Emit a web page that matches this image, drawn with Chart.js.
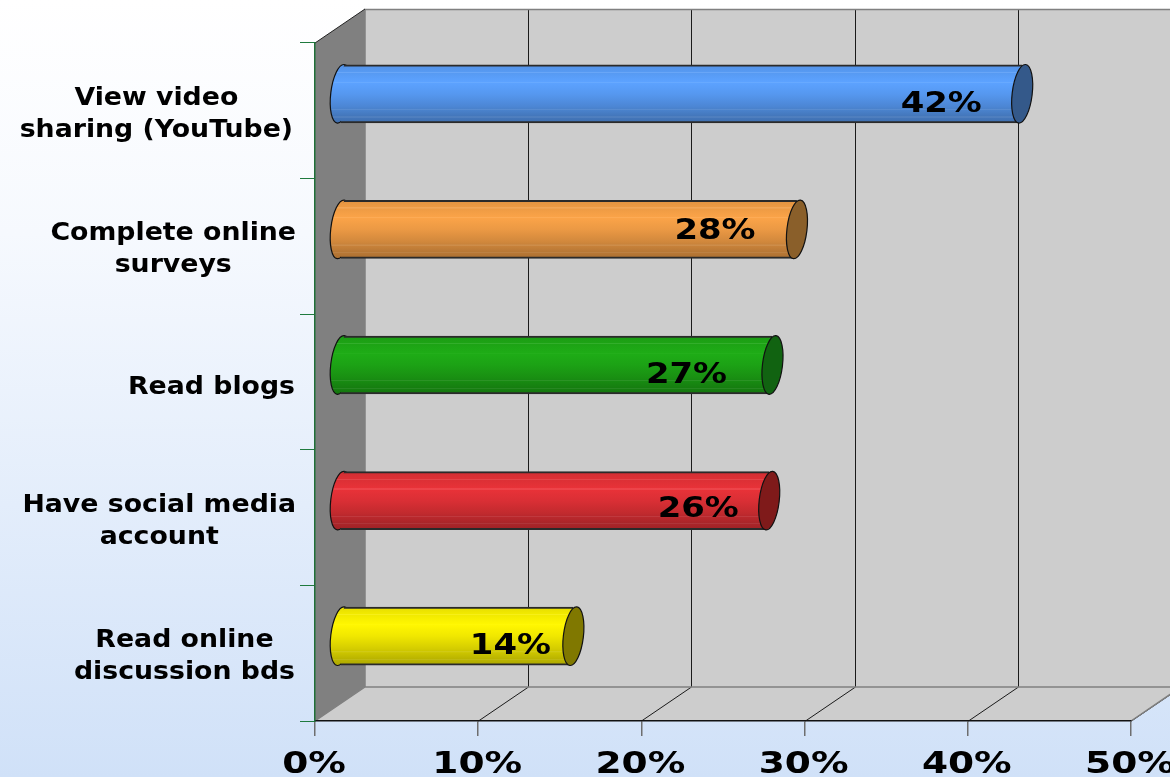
<!DOCTYPE html>
<html>
<head>
<meta charset="utf-8">
<style>
    html, body { margin: 0; padding: 0; width: 1170px; height: 777px; overflow: hidden; }
    body { background: linear-gradient(#ffffff 0%, #f6f9fe 30%, #d0e1f8 100%); }
    canvas { display: block; }
</style>
<script src="https://cdn.jsdelivr.net/npm/chart.js@4"></script>
</head>
<body>
<canvas id="chart" width="1170" height="777"></canvas>
<script>
// Chart values
const categories = [
    ['View video', 'sharing (YouTube)'],
    ['Complete online', 'surveys'],
    ['Read blogs'],
    ['Have social media', 'account'],
    ['Read online', 'discussion bds']
];
const shares = [41.8, 28, 26.5, 26.3, 14.3];
const shareLabels = ['42%', '28%', '27%', '26%', '14%'];
const barRgb = [[92, 162, 255], [250, 163, 72], [30, 172, 22], [232, 50, 56], [255, 246, 0]];
const capColors = ['#34598a', '#8a5f2a', '#116311', '#7f1a1a', '#807800'];

// 3D box settings
const DEPTH_X = 50, DEPTH_Y = -34;
const BAR_H = 58, CAP_RX = 10, CAP_TILT = 3.5;
const FONT = '"DejaVu Sans"';
const labelShiftX = [-81, -82, -86, -71, -63];
const labelShiftY = [18, 10, 18, 16, 18];
const categoryRight = [293, 296, 295, 296, 295];

function shade(rgb, k) {
    const c = rgb.map(v => Math.max(0, Math.min(255, Math.round(v * k))));
    return `rgb(${c[0]},${c[1]},${c[2]})`;
}

// cylinder shading, with the thin light streaks seen on the bars
function barGradient(ctx, top, bottom, rgb) {
    const g = ctx.createLinearGradient(0, top, 0, bottom);
    const stops = [[0, 0.9], [0.12, 0.95], [0.3, 1], [0.5, 0.94], [0.72, 0.83], [1, 0.68]];
    stops.forEach(s => g.addColorStop(s[0], shade(rgb, s[1])));
    [[0.13, 0.95], [0.3, 1], [0.77, 0.8], [0.9, 0.73]].forEach(([p, base]) => {
        const light = shade(rgb.map(v => v * 0.9 + 25), base + 0.02);
        g.addColorStop(p - 0.012, shade(rgb, base));
        g.addColorStop(p - 0.008, light);
        g.addColorStop(p + 0.008, light);
        g.addColorStop(p + 0.012, shade(rgb, base));
    });
    return g;
}

function stretchedText(ctx, text, x, y, sx) {
    ctx.save();
    ctx.translate(x, y);
    ctx.scale(sx, 1);
    ctx.fillText(text, 0, 0);
    ctx.restore();
}

function drawCap(ctx, cx, cy, fill) {
    ctx.beginPath();
    ctx.ellipse(cx, cy, CAP_RX, BAR_H / 2 + 0.5, Math.atan(CAP_TILT / (BAR_H / 2)), 0, Math.PI * 2);
    ctx.fillStyle = fill;
    ctx.fill();
    ctx.strokeStyle = '#111';
    ctx.lineWidth = 1.2;
    ctx.stroke();
}

const boxPlugin = {
    id: 'box3d',
    // walls and floor go down first, below the axes
    beforeDraw(chart) {
        const ctx = chart.ctx, a = chart.chartArea, xs = chart.scales.x;
        const dx = DEPTH_X, dy = DEPTH_Y;
        ctx.save();
        ctx.fillStyle = '#cdcdcd';
        ctx.fillRect(a.left + dx, a.top + dy, a.width, a.height);
        ctx.beginPath();
        ctx.moveTo(a.left, a.bottom);
        ctx.lineTo(a.right, a.bottom);
        ctx.lineTo(a.right + dx, a.bottom + dy);
        ctx.lineTo(a.left + dx, a.bottom + dy);
        ctx.closePath();
        ctx.fill();
        ctx.fillStyle = '#808080';
        ctx.beginPath();
        ctx.moveTo(a.left, a.top);
        ctx.lineTo(a.left + dx, a.top + dy);
        ctx.lineTo(a.left + dx, a.bottom + dy);
        ctx.lineTo(a.left, a.bottom);
        ctx.closePath();
        ctx.fill();

        ctx.lineWidth = 1;
        ctx.strokeStyle = '#1a1a1a';
        xs.ticks.forEach(t => {
            if (t.value === 0) return;
            const x = Math.round(xs.getPixelForValue(t.value)) + 0.5;
            ctx.beginPath();
            ctx.moveTo(x, a.bottom);
            ctx.lineTo(x + dx, a.bottom + dy);
            ctx.lineTo(x + dx, a.top + dy);
            ctx.stroke();
        });

        ctx.strokeStyle = '#808080';
        ctx.lineWidth = 1.5;
        ctx.beginPath();
        ctx.moveTo(a.right + dx, a.top + dy + 0.5);
        ctx.lineTo(a.left + dx, a.top + dy + 0.5);
        ctx.lineTo(a.left + dx, a.bottom + dy);
        ctx.lineTo(a.right + dx, a.bottom + dy);
        ctx.lineTo(a.right, a.bottom);
        ctx.moveTo(a.left, a.bottom);
        ctx.lineTo(a.left + dx, a.bottom + dy);
        ctx.stroke();

        ctx.strokeStyle = '#222';
        ctx.lineWidth = 1;
        ctx.beginPath();
        ctx.moveTo(a.left, a.top);
        ctx.lineTo(a.left + dx, a.top + dy);
        ctx.stroke();
        ctx.restore();
    },
    // bars sit half way into the box
    beforeDatasetsDraw(chart) {
        const ctx = chart.ctx, bars = chart.getDatasetMeta(0).data;
        ctx.save();
        ctx.translate(DEPTH_X / 2, DEPTH_Y / 2);
        bars.forEach((bar, i) => {
            const grad = barGradient(ctx, bar.y - BAR_H / 2, bar.y + BAR_H / 2, barRgb[i]);
            drawCap(ctx, bar.base, bar.y, grad);
        });
        // slant the ends of the bodies so they meet the tilted caps
        ctx.beginPath();
        bars.forEach(bar => {
            const t = bar.y - BAR_H / 2 - 2, b = bar.y + BAR_H / 2 + 2;
            ctx.moveTo(bar.base + CAP_TILT, t);
            ctx.lineTo(bar.x + CAP_TILT, t);
            ctx.lineTo(bar.x - CAP_TILT, b);
            ctx.lineTo(bar.base - CAP_TILT, b);
            ctx.closePath();
        });
        ctx.clip();
    },
    afterDatasetsDraw(chart) {
        const ctx = chart.ctx, bars = chart.getDatasetMeta(0).data;
        ctx.restore();
        ctx.save();
        ctx.translate(DEPTH_X / 2, DEPTH_Y / 2);
        bars.forEach((bar, i) => drawCap(ctx, bar.x, bar.y, capColors[i]));
        ctx.restore();
    },
    afterDraw(chart) {
        const ctx = chart.ctx, xs = chart.scales.x, ys = chart.scales.y;
        const bars = chart.getDatasetMeta(0).data;
        ctx.save();
        ctx.fillStyle = '#000';
        ctx.textAlign = 'center';
        ctx.textBaseline = 'alphabetic';

        // value labels
        ctx.font = 'bold 28px ' + FONT;
        bars.forEach((bar, i) => {
            stretchedText(ctx, shareLabels[i], bar.x + DEPTH_X / 2 + labelShiftX[i], bar.y + DEPTH_Y / 2 + labelShiftY[i], 1.21);
        });

        // x tick labels
        ctx.font = 'bold 30px ' + FONT;
        xs.ticks.forEach(t => {
            stretchedText(ctx, t.label, xs.getPixelForValue(t.value) - 1, 773, 1.25);
        });

        // category labels, each block centred and flush against the axis
        const sx = 1.07;
        ctx.font = 'bold 25px ' + FONT;
        categories.forEach((lines, i) => {
            const c = ys.getPixelForValue(i);
            const w = Math.max(...lines.map(l => ctx.measureText(l).width)) * sx;
            const first = lines.length === 1 ? c + 12 : c - 6;
            lines.forEach((line, j) => {
                stretchedText(ctx, line, categoryRight[i] - w / 2, first + j * 32, sx);
            });
        });
        ctx.restore();
    }
};

new Chart(document.getElementById('chart'), {
    type: 'bar',
    data: {
        labels: categories,
        datasets: [{
            data: shares,
            barThickness: BAR_H,
            borderColor: '#2a2a2a',
            borderWidth: { top: 2, bottom: 2, left: 0, right: 0 },
            borderSkipped: false,
            backgroundColor(context) {
                const i = context.dataIndex;
                const y = i === undefined ? NaN : context.chart.scales.y.getPixelForValue(i);
                if (!isFinite(y)) return '#888';
                return barGradient(context.chart.ctx, y - BAR_H / 2, y + BAR_H / 2, barRgb[i]);
            }
        }]
    },
    options: {
        indexAxis: 'y',
        responsive: false,
        animation: false,
        events: [],
        layout: { padding: { left: 300, right: 39, top: 43, bottom: 41 } },
        plugins: { legend: { display: false }, tooltip: { enabled: false } },
        scales: {
            x: {
                min: 0,
                max: 50,
                ticks: { stepSize: 10, display: false, callback: v => v + '%' },
                grid: { drawOnChartArea: false, tickLength: 15, tickColor: '#6e6e6e', lineWidth: 1.5 },
                border: { color: '#111', width: 1.5 }
            },
            y: {
                ticks: { display: false },
                grid: { drawOnChartArea: false, tickLength: 15, tickColor: '#1f7a3e' },
                border: { color: '#1f6f38', width: 1.5 }
            }
        }
    },
    plugins: [boxPlugin]
});
</script>
</body>
</html>
